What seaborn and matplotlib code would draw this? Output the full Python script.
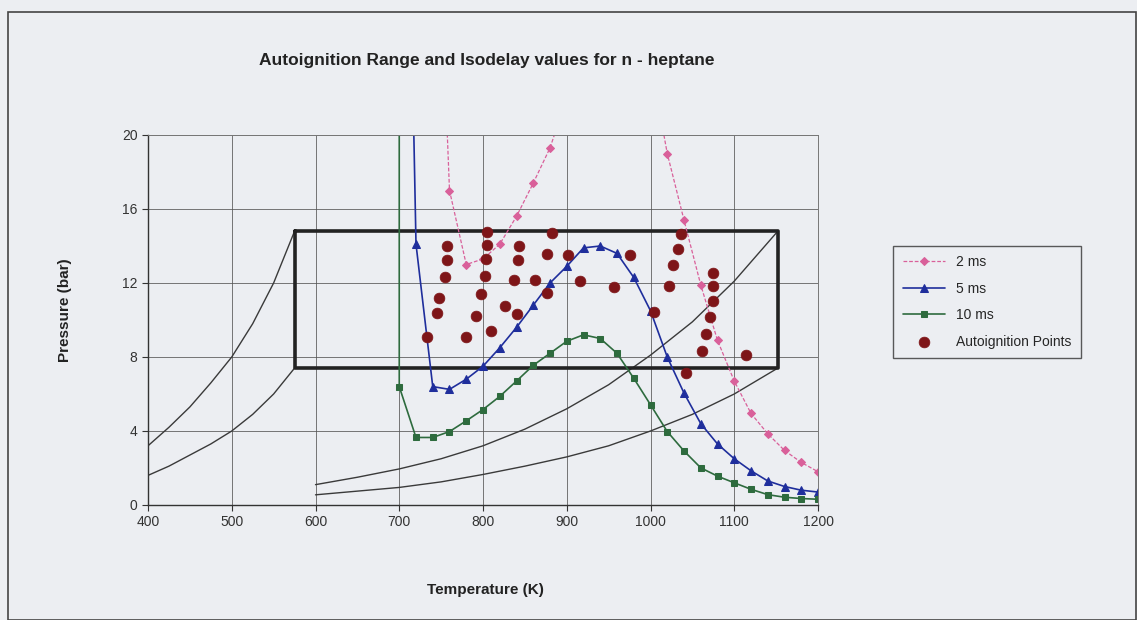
import matplotlib
matplotlib.use("Agg")
import matplotlib.pyplot as plt
import seaborn as sns
import pandas as pd
from matplotlib.patches import Rectangle

# ---------------- data ----------------
# 2 ms isodelay (off-chart points keep the line running out of the top)
ms2_T = [740, 760, 780, 800, 820, 840, 860, 880, 900, 1000, 1020, 1040, 1060,
         1080, 1100, 1120, 1140, 1160, 1180, 1200]
ms2_P = [40, 17.0, 13.0, 13.3, 14.1, 15.6, 17.4, 19.3, 22.0, 24.0, 19.0, 15.4,
         11.9, 8.9, 6.7, 4.95, 3.85, 2.95, 2.3, 1.8]

# 5 ms isodelay
ms5_T = [700, 720, 740, 760, 780, 800, 820, 840, 860, 880, 900, 920, 940, 960,
         980, 1000, 1020, 1040, 1060, 1080, 1100, 1120, 1140, 1160, 1180, 1200]
ms5_P = [60, 14.1, 6.4, 6.25, 6.8, 7.5, 8.5, 9.6, 10.8, 12.0, 12.9, 13.9, 14.0,
         13.6, 12.3, 10.5, 8.0, 6.05, 4.4, 3.3, 2.5, 1.85, 1.3, 1.0, 0.8, 0.7]

# 10 ms isodelay
ms10_T = [700, 700, 720, 740, 760, 780, 800, 820, 840, 860, 880, 900, 920, 940,
          960, 980, 1000, 1020, 1040, 1060, 1080, 1100, 1120, 1140, 1160, 1180, 1200]
ms10_P = [40, 6.4, 3.65, 3.65, 3.97, 4.55, 5.16, 5.87, 6.7, 7.55, 8.2, 8.85, 9.2,
          9.0, 8.2, 6.85, 5.42, 3.97, 2.92, 2.01, 1.56, 1.2, 0.85, 0.56, 0.42, 0.35, 0.31]

# autoignition points
ai_T = [733, 745, 748, 755, 757, 757, 780, 792, 798, 802, 804, 805, 805, 809,
        826, 840, 837, 842, 843, 862, 877, 876, 882, 902, 916, 956, 976, 1004,
        1022, 1027, 1033, 1037, 1042, 1061, 1066, 1071, 1075, 1075, 1075, 1114]
ai_P = [9.1, 10.4, 11.2, 12.3, 13.25, 14.0, 9.1, 10.2, 11.4, 12.4, 13.3, 14.05,
        14.75, 9.4, 10.75, 10.35, 12.15, 13.25, 14.0, 12.15, 11.45, 13.55, 14.7,
        13.5, 12.12, 11.8, 13.5, 10.45, 11.85, 12.95, 13.85, 14.65, 7.15, 8.35,
        9.25, 10.15, 11.05, 11.85, 12.55, 8.1]

# autoignition range box
box_T = [575, 1152, 1152, 575, 575]
box_P = [14.8, 14.8, 7.4, 7.4, 14.8]

# compression curves leading to the box corners
curveA_T = [400, 425, 450, 475, 500, 525, 550, 575]
curveA_P = [3.2, 4.2, 5.3, 6.6, 8.0, 9.8, 12.0, 14.8]
curveB_T = [400, 425, 450, 475, 500, 525, 550, 575]
curveB_P = [1.6, 2.1, 2.7, 3.3, 4.0, 4.9, 6.0, 7.4]
curveC_T = [600, 650, 700, 750, 800, 850, 900, 950, 1000, 1050, 1100, 1152]
curveC_P = [1.1, 1.5, 1.95, 2.5, 3.2, 4.1, 5.2, 6.5, 8.1, 9.9, 12.1, 14.8]
curveD_T = [600, 650, 700, 750, 800, 850, 900, 950, 1000, 1050, 1100, 1152]
curveD_P = [0.55, 0.75, 0.95, 1.25, 1.65, 2.1, 2.6, 3.2, 4.0, 4.9, 6.0, 7.4]

x_ticks = [400, 500, 600, 700, 800, 900, 1000, 1100, 1200]
y_ticks = [0, 4, 8, 12, 16, 20]

title = "Autoignition Range and Isodelay values for n - heptane"
x_label = "Temperature (K)"
y_label = "Pressure (bar)"

# ---------------- style ----------------
bg = "#eceef2"
sns.set_theme(style="ticks")
plt.rcParams["font.family"] = ["Liberation Sans", "DejaVu Sans"]

fig = plt.figure(figsize=(11.37, 6.2), dpi=100, facecolor=bg)
ax = fig.add_axes([148 / 1137, 1 - 505 / 620, 670 / 1137, 370 / 620])
ax.set_facecolor(bg)

# outer chart border
fig.patches.append(Rectangle((8 / 1137, 0.0), 1 - 9 / 1137, 1 - 12 / 620,
                             transform=fig.transFigure, fill=False,
                             edgecolor="#444444", linewidth=1.2))

ax.set_xlim(400, 1200)
ax.set_ylim(0, 20)
ax.set_xticks(x_ticks)
ax.set_yticks(y_ticks)
ax.grid(True, color="#555555", linewidth=0.7, alpha=0.8)
ax.set_axisbelow(True)
for s in ["top", "right"]:
    ax.spines[s].set_color("#777777")
    ax.spines[s].set_linewidth(0.7)
for s in ["left", "bottom"]:
    ax.spines[s].set_color("#333333")
    ax.spines[s].set_linewidth(1.0)
ax.tick_params(axis="both", labelsize=10, colors="#333333", length=4, width=0.8,
               direction="out")

black = "#3a3a3a"
for tt, pp in [(curveA_T, curveA_P), (curveB_T, curveB_P),
               (curveC_T, curveC_P), (curveD_T, curveD_P)]:
    sns.lineplot(x=tt, y=pp, ax=ax, color=black, linewidth=1.0, sort=False,
                 estimator=None, legend=False)

sns.lineplot(x=box_T, y=box_P, ax=ax, color="#222222", linewidth=2.6, sort=False,
             estimator=None, legend=False)

pink = "#d9609a"
blue = "#1f2e9c"
green = "#2e6b3e"
red = "#7e1518"

sns.lineplot(x=ms2_T, y=ms2_P, ax=ax, color=pink, linewidth=0.9, linestyle=(0, (3, 1.5)),
             marker="D", markersize=4.5, markeredgecolor=pink, sort=False,
             estimator=None, label="2 ms")
sns.lineplot(x=ms5_T, y=ms5_P, ax=ax, color=blue, linewidth=1.2,
             marker="^", markersize=6, markeredgecolor=blue, sort=False,
             estimator=None, label="5 ms")
sns.lineplot(x=ms10_T, y=ms10_P, ax=ax, color=green, linewidth=1.2,
             marker="s", markersize=4.5, markeredgecolor=green, sort=False,
             estimator=None, label="10 ms")
sns.scatterplot(x=ai_T, y=ai_P, ax=ax, color=red, s=60, edgecolor=red,
                linewidth=0.5, zorder=5, label="Autoignition Points")

ax.legend_.remove()
handles, labels = ax.get_legend_handles_labels()
leg = fig.legend(handles, labels, loc="center",
                 bbox_to_anchor=(987 / 1137, 1 - 302 / 620),
                 frameon=True, fancybox=False, edgecolor="#333333",
                 facecolor=bg, fontsize=10, handlelength=3.0,
                 borderpad=0.7, labelspacing=0.9)
leg.get_frame().set_linewidth(1.0)

fig.text(487 / 1137, 1 - 60 / 620, title, ha="center", va="center",
         fontsize=12.5, fontweight="bold", color="#222222")
fig.text(485 / 1137, 1 - 590 / 620, x_label, ha="center", va="center",
         fontsize=11, fontweight="bold", color="#222222")
fig.text(65 / 1137, 1 - 310 / 620, y_label, ha="center", va="center",
         rotation=90, fontsize=11, fontweight="bold", color="#222222")

fig.savefig("out.png", dpi=100, facecolor=bg)
